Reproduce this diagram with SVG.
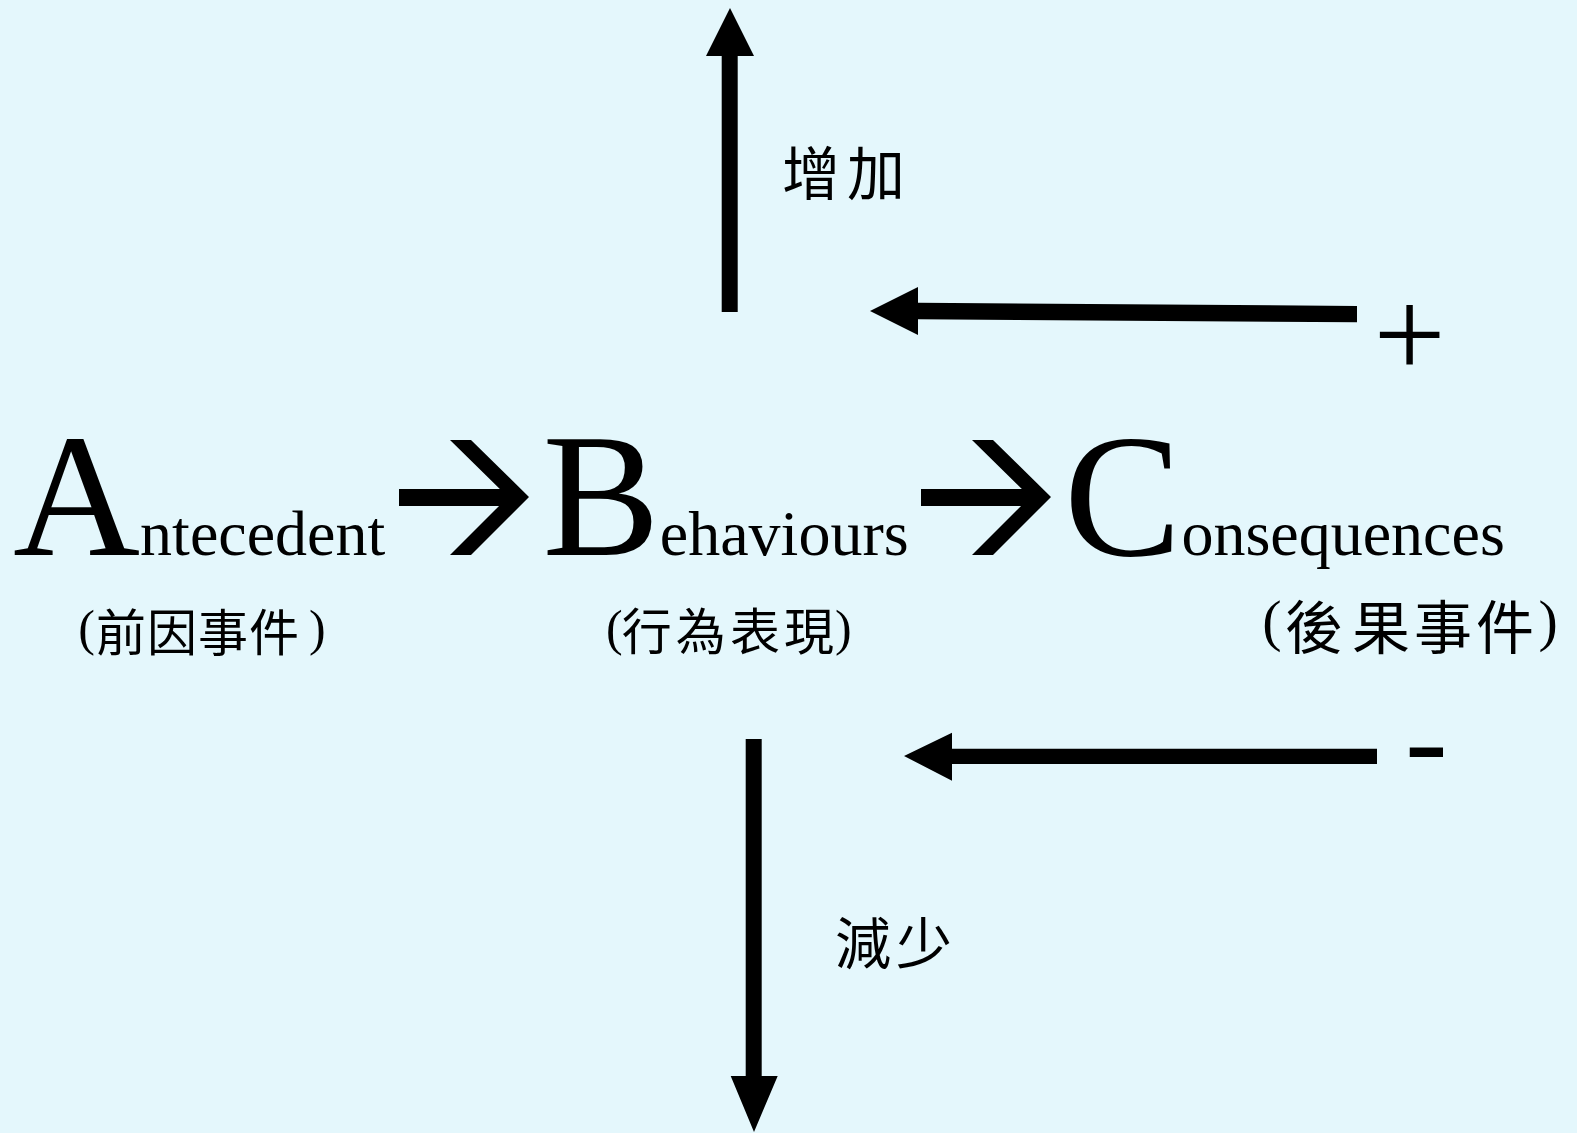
<svg xmlns="http://www.w3.org/2000/svg" width="1577" height="1133" viewBox="0 0 1577 1133">
<style>
.lat{font-family:"Liberation Serif","Times New Roman",serif;fill:#000}
.cjk{font-family:"Noto Sans CJK TC","Noto Sans CJK SC",sans-serif;fill:#000}
.arr{fill:#000;stroke:none}
</style>
<rect x="0" y="0" width="1577" height="1133" fill="#E4F7FC"/>
<g id="node-antecedent">
<text class="lat" x="13" y="555"><tspan font-size="176">A</tspan><tspan font-size="64">ntecedent</tspan></text>
<text class="lat" font-size="50" x="78.3" y="644.5">(</text>
<text class="cjk" font-size="50" x="96 147 198 249" y="650.5">前因事件</text>
<text class="lat" font-size="50" x="309" y="644.5">)</text>
</g>
<g id="node-behaviours">
<text class="lat" x="542.4" y="555"><tspan font-size="176">B</tspan><tspan font-size="64">ehaviours</tspan></text>
<text class="lat" font-size="50" x="605.9" y="644.5">(</text>
<text class="cjk" font-size="50" x="621.7 675.8 730 784" y="650">行為表現</text>
<text class="lat" font-size="50" x="835" y="644.5">)</text>
</g>
<g id="node-consequences">
<text class="lat" x="1064" y="555"><tspan font-size="176">C</tspan><tspan font-size="64">onsequences</tspan></text>
<text class="lat" font-size="58" x="1262.2" y="639.7">(</text>
<text class="cjk" font-size="58" x="1285 1352 1414 1476" y="649">後果事件</text>
<text class="lat" font-size="58" x="1538.5" y="639.7">)</text>
</g>
<g id="label-increase">
<text class="cjk" font-size="58" x="782 847" y="195.4">增加</text>
</g>
<g id="label-decrease">
<text class="cjk" font-size="56" x="835 896" y="963.8">減少</text>
</g>
<g id="label-plus">
<text class="lat" font-size="128" x="1373.5" y="377">+</text>
</g>
<g id="label-minus">
<text class="lat" font-size="128" x="1405" y="781.5">-</text>
</g>
<g id="connectors">
<polygon class="arr" points="399,489 515,489 515,506 399,506"/>
<polygon class="arr" points="450,440 471,440 529,497 471,555 450,555 508,497"/>
<polygon class="arr" points="921,489 1037,489 1037,506 921,506"/>
<polygon class="arr" points="972,440 993,440 1051,497 993,555 972,555 1030,497"/>
<polygon class="arr" points="730,8 754,56 737.7,56 737.7,312 721.7,312 721.7,56 706,56"/>
<polygon class="arr" points="870,311 918,287 918,302.7 1357,306 1357,322.3 918,319.3 918,335"/>
<polygon class="arr" points="904,756 952,732.7 952,748.7 1377,748.7 1377,764 952,764 952,780.7"/>
<polygon class="arr" points="754,1132 777.7,1076 761.7,1076 761.7,739 745.7,739 745.7,1076 730.7,1076"/>
</g>
</svg>
